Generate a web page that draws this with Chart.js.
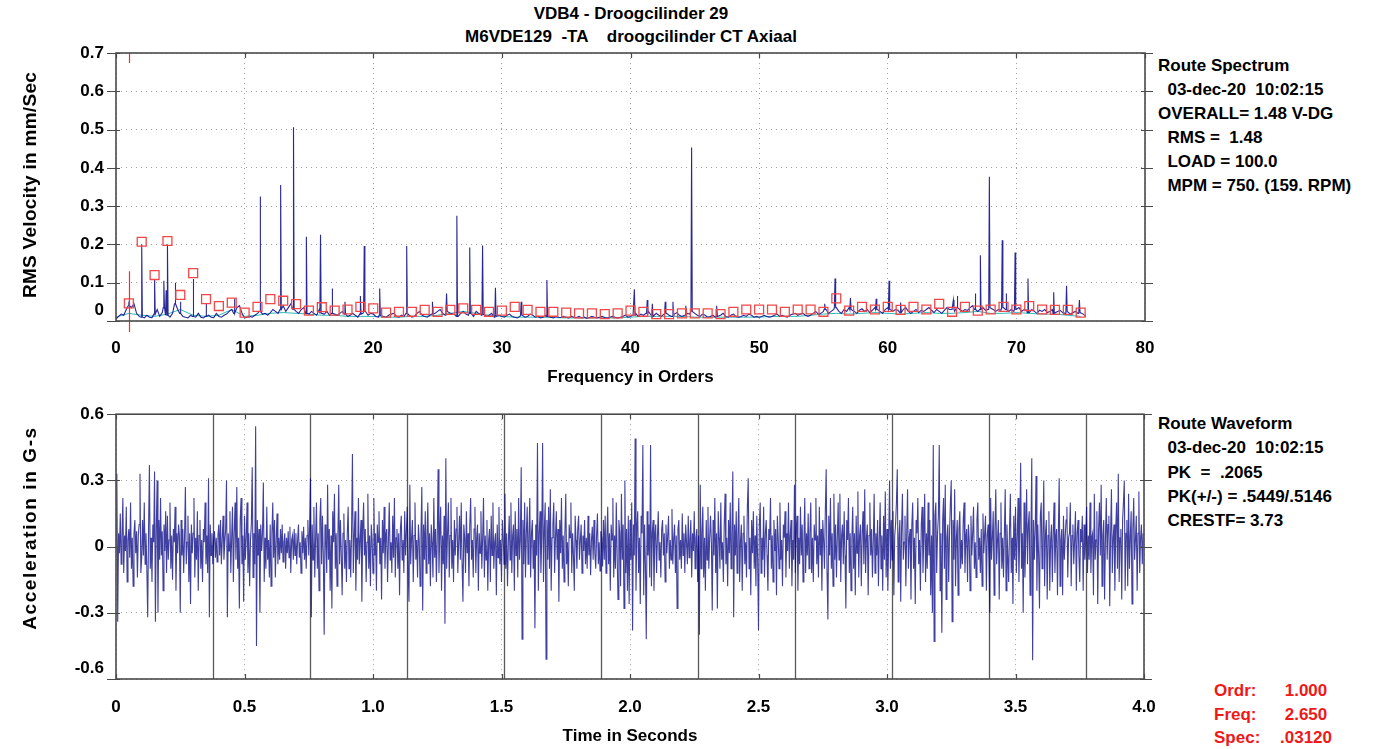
<!DOCTYPE html>
<html><head><meta charset="utf-8">
<script src="https://cdn.jsdelivr.net/npm/chart.js@4.4.1/dist/chart.umd.min.js"></script>
<style>
html,body{margin:0;padding:0;background:#fff;}
body{width:1399px;height:749px;position:relative;overflow:hidden;font-family:"Liberation Sans",Arial,sans-serif;font-weight:bold;color:#000;}
.t{position:absolute;white-space:pre;font-size:17px;line-height:24px;}
canvas{position:absolute;left:0;}
.red{color:#f01818;}
.yt{position:absolute;white-space:nowrap;font-size:19px;transform:translate(-50%,-50%) rotate(-90deg);z-index:2;}
</style></head><body>
<div class="t" style="left:0;width:1262px;text-align:center;top:2px">VDB4 - Droogcilinder 29</div>
<div class="t" style="left:0;width:1262px;text-align:center;top:25px">M6VDE129  -TA    droogcilinder CT Axiaal</div>
<div class="t" style="left:1158px;top:54px;">Route Spectrum
  03-dec-20  10:02:15
OVERALL= 1.48 V-DG
  RMS =  1.48
  LOAD = 100.0
  MPM = 750. (159. RPM)</div>
<div class="t" style="left:1158px;top:412px;line-height:24.25px">Route Waveform
  03-dec-20  10:02:15
  PK  =  .2065
  PK(+/-) = .5449/.5146
  CRESTF= 3.73</div>
<div class="t red" style="left:1214px;top:679px;line-height:23.5px">Ordr:
Freq:
Spec:</div>
<div class="t red" style="left:1256px;width:100px;text-align:center;top:679px;line-height:23.5px">1.000
2.650
.03120</div>
<canvas id="c1" width="1399" height="392" style="top:0"></canvas>
<canvas id="c2" width="1399" height="357" style="top:392px"></canvas>
<div class="yt" style="left:30px;top:185px;letter-spacing:0.3px">RMS Velocity in mm/Sec</div>
<div class="yt" style="left:30px;top:528px;letter-spacing:1.6px">Acceleration in G-s</div>
<script>
// ---------- Spectrum (top) ----------
const topXLabels = ['0','10','20','30','40','50','60','70','80'];
const topYLabels = ['0','0.1','0.2','0.3','0.4','0.5','0.6','0.7'];
const baseStep = 0.2; // orders between baseline spectral lines
const specBaseA = [
.005,.012,.018,.015,.03,.04,.035,.045,.02,.012,.01,.008,.015,.01,.009,.018,.03,.012,.022,.035,.015,.01,.02,.045,.03,
.02,.012,.01,.008,.015,.012,.01,.02,.01,.008,.012,.015,.01,.009,.02,.012,.01,.015,.018,.025,.03,.02,.035,.04,.02,
.008,.01,.012,.01,.015,.02,.025,.018,.02,.015,.022,.03,.025,.02,.03,.04,.025,.035,.045,.03,.025,.02,.03,.035,.02,
.018,.025,.02,.015,.03,.02,.018,.025,.015,.02,.018,.015,.02,.025,.018,.012,.015,.02,.015,.01,.018,.02,.025,.015,.02,
.018,.012,.01,.015,.012,.01,.015,.018,.02,.012,.01,.015,.012,.02,.015,.01,.012,.02,.025,.015,.012,.01,.015,.018,.02];
const specBaseB = [
.025,.03,.02,.015,.025,.02,.018,.015,.012,.02,.025,.018,.015,.02,.012,.025,.02,.015,.018,.012,.015,.02,.01,.012,.015,
.012,.01,.015,.018,.012,.01,.008,.012,.015,.01,.012,.018,.015,.01,.012,.008,.01,.015,.012,.01,.008,.012,.01,.009,.012,
.01,.008,.012,.01,.009,.012,.008,.01,.007,.009,.012,.01,.008,.01,.012,.009,.008,.01,.012,.01,.008,.01,.012,.015,.01,
.012,.015,.02,.012,.018,.015,.02,.025,.015,.012,.02,.015,.012,.018,.02,.015,.012,.018,.022,.015,.012,.015,.02,.018,.025,
.02,.015,.012,.018,.015,.01,.012,.015,.01,.012,.015,.02,.012,.01,.015,.018,.012,.01,.012,.015,.012,.018,.015,.01,.012];
const specBaseC = [
.01,.012,.015,.012,.01,.012,.015,.018,.012,.015,.012,.01,.015,.018,.02,.015,.018,.02,.015,.012,.015,.02,.025,.018,.02,
.025,.03,.02,.025,.03,.035,.025,.02,.03,.025,.035,.03,.025,.02,.028,.032,.025,.03,.022,.028,.035,.03,.025,.02,.03,
.035,.03,.025,.03,.028,.022,.03,.035,.025,.02,.025,.03,.022,.028,.025,.03,.035,.028,.022,.03,.025,.02,.028,.035,.03,
.03,.025,.035,.03,.025,.03,.028,.035,.04,.03,.025,.03,.035,.028,.03,.035,.03,.025,.03,.028,.035,.03,.025,.03,.025,
.03,.035,.025,.03,.028,.022,.03,.025,.02,.028,.025,.03,.022,.025,.03,.02,.025,.028,.022,.02,.025,.018,.022,.025,.02,
.022,.018,.012];
const spikeOrders = [1.0,2.0,3.0,3.72,3.9,4.0,4.6,5.0,6.0,7.0,9.2,11.2,12.8,13.8,14.8,15.9,16.8,17.8,19.0,19.3,20.5,22.6,24.6,25.7,26.5,27.5,28.5,29.5,31.5,33.5,40.3,41.3,41.7,42.7,43.3,44.3,44.75,46.7,55.1,55.9,57.1,59.1,60.1,61.0,65.1,65.4,66.8,67.2,67.9,68.9,69.2,69.9,70.9,72.9,73.9,74.9];
const spikeAmps   = [.045,.20,.11,.105,.08,.20,.10,.05,.11,.045,.058,.325,.355,.506,.22,.225,.085,.05,.065,.196,.085,.196,.05,.072,.275,.192,.197,.087,.05,.107,.083,.055,.045,.05,.05,.04,.453,.04,.045,.111,.06,.058,.105,.048,.055,.065,.072,.172,.377,.211,.072,.179,.111,.075,.092,.055];
// red peak markers at harmonic orders 1..75
const peakAmps = [
.046,.207,.12,.209,.068,.125,.057,.039,.048,.022,
.037,.057,.053,.044,.027,.036,.027,.03,.037,.033,
.022,.024,.024,.029,.024,.029,.033,.029,.024,.027,
.037,.029,.024,.024,.022,.02,.02,.018,.02,.027,
.024,.018,.018,.02,.02,.02,.018,.024,.03,.03,
.03,.024,.03,.03,.024,.059,.027,.037,.03,.037,
.029,.037,.03,.045,.024,.037,.027,.03,.037,.03,
.039,.03,.029,.029,.022];
// cyan reference line at orders 0..75
const cyanAmps = [
.01,.02,.015,.012,.018,.03,.015,.012,.015,.03,
.012,.015,.02,.022,.02,.018,.015,.015,.012,.012,
.012,.01,.01,.012,.012,.015,.02,.025,.02,.015,
.012,.01,.01,.01,.009,.008,.008,.008,.008,.008,
.01,.012,.012,.012,.012,.01,.01,.01,.01,.01,
.01,.012,.012,.012,.015,.018,.02,.018,.02,.022,
.02,.018,.02,.022,.02,.02,.022,.025,.02,.02,
.022,.02,.018,.018,.015,.012];
const cursorOrder = 1.0;
const cursorAmp = 0.13;

// ---------- Waveform (bottom) ----------
const botXLabels = ['0','0.5','1.0','1.5','2.0','2.5','3.0','3.5','4.0'];
const botYLabels = ['-0.6','-0.3','0','0.3','0.6'];
const recordSec = 4.0;
const revTimes = [0.377,0.755,1.132,1.509,1.887,2.264,2.642,3.019,3.396,3.774];
const wave1 = [
.02,.33,-.34,.06,-.03,.15,-.08,.04,.22,-.12,.05,-.02,.18,-.16,.03,.08,-.05,.2,-.1,.04,-.18,.06,.12,-.03,.07,-.14,.05,.1,.33,-.12,
-.05,.12,-.04,.2,-.08,.06,-.1,-.32,.08,.37,-.1,.04,-.16,.1,.02,.34,-.34,.08,.3,-.3,.12,-.06,.22,-.04,.07,-.2,.1,-.02,.16,-.12,
.14,-.06,.03,.2,-.1,.05,-.15,.08,.02,.18,-.2,.06,-.03,.1,.05,-.3,.12,-.04,.08,-.12,.04,.27,-.08,.02,.14,-.16,.06,-.26,.1,-.03,
.06,.22,-.14,.04,-.06,.16,-.2,.05,.12,-.1,.03,-.16,.08,.02,.2,-.08,.05,-.12,.31,-.32,.1,-.04,.06,-.08,.03,.07,-.05,.04,-.07,.05,
.1,-.04,.12,-.08,.03,.14,-.06,.02,.08,.3,-.32,.06,-.02,.16,-.12,.04,.18,-.16,.06,.2,-.06,.27,-.1,.04,-.28,.12,.22,-.08,.05,-.25,
.14,-.06,.04,.2,-.12,.06,-.18,.03,.1,.36,-.14,.06,-.08,.545,-.45,.12,-.04,.08,-.3,.1,-.02,.06,.29,-.16,.04,-.1,.18,-.06,.03,-.14,
.1,-.18,.06,.2,-.05,.12,-.14,.03,.15,-.08,.04,-.06,.08,-.03,.1,-.07,.02,.06,-.1,.04,-.03,.07,-.05,.09,-.12,.03,.05,-.06,.08,-.04,
.06,-.08,.03,.1,-.05,.02,-.12,.07,-.03,.09,-.06,.04,-.1,.05,.12,-.04,.08,.31,-.32,.1,-.06,.18,-.14,.04,.2,-.1,.06,-.2,.12,.22,
-.08,.14,-.04,-.4,.1,.03,-.12,.28,-.06,.08,-.2,.05,-.28,.16,.02,.24,-.1,.06,-.18,.04,.28,-.08,.12,-.04,-.22,.06,.15,-.1,.03,-.16,
.06,.18,-.1,.03,-.14,.08,.42,-.12,.05,.16,-.2,.04,-.06,.22,-.08,.03,.12,-.25,.06,.2,-.04,.08,-.16,.02,.24,-.1,.05,-.18,.1,.03];
const wave2 = [
-.12,.22,-.04,.06,-.2,.1,.02,.16,-.08,.04,-.24,.12,-.03,.18,-.1,.05,.08,-.16,.03,.2,-.06,.02,-.12,.14,-.05,.22,-.14,.04,.08,-.1,
.06,-.22,.08,.14,-.06,.03,-.12,.16,-.04,.07,.18,-.1,-.25,.28,-.08,.04,.12,-.16,.05,.2,-.06,.03,-.14,.1,.02,-.18,.06,.27,-.29,.1,
-.06,.16,-.12,.04,.2,-.08,.06,-.18,.1,.02,-.14,.22,-.05,.08,-.16,.04,.35,-.12,.06,.18,-.2,.05,-.08,.14,-.35,.4,-.1,.06,.2,-.14,
.05,.22,-.1,.03,-.16,.12,-.04,.08,.18,-.12,.02,.14,-.06,.2,-.08,-.25,.1,.04,-.12,.16,-.03,.06,-.18,.1,.22,-.06,.03,-.14,.08,.18,
-.12,.04,.1,-.2,.06,-.03,.16,-.1,.04,.22,-.14,.05,-.06,.12,-.2,.03,.08,-.16,.14,-.04,.2,-.1,.02,.06,-.22,.1,-.05,.18,-.08,.03,
-.16,.12,.04,-.08,.24,-.1,.06,-.18,.02,.14,-.06,.2,-.12,.05,.1,-.2,.16,-.04,.08,-.14,.22,-.06,.03,.36,-.42,.12,-.08,.2,-.14,.06,
.18,-.08,.04,.22,-.14,.06,.12,-.1,.03,-.37,.1,-.04,.47,-.2,.06,.16,-.12,.04,.47,-.16,.08,.2,-.51,.12,-.06,.18,-.1,.26,-.2,.04,
.1,.2,-.12,.04,.16,-.06,.08,-.25,.12,-.03,.22,-.1,.05,-.16,.06,.24,-.08,.02,-.18,.1,.04,.2,-.12,.06,-.04,-.2,.14,.03,-.1,.08,
.14,-.06,.03,.1,-.12,.05,-.02,.12,-.08,.04,-.1,.14,-.04,.06,-.13,.03,.09,-.06,.12,-.03,-.1,.05,.15,-.08,.02,-.11,.07,.04,-.09,.12,
-.06,.14,-.12,.04,.18,-.08,.06,-.2,.1,.03,.22,-.14,.05,-.1,.2,-.04,-.24,.12,.06,-.18,.24,-.06,.1,-.28,.3,-.12,.08,-.2,.14,-.26];
const wave3 = [
.12,-.06,.2,-.38,.1,-.04,.49,-.2,.08,.16,-.12,.04,-.26,.14,.06,.46,-.22,.1,-.08,-.42,.16,-.04,.1,-.14,.46,-.18,.06,.12,-.2,.04,
.1,-.12,.04,.16,-.06,.02,-.14,.08,.12,-.04,.06,-.16,.1,-.03,.05,.14,-.1,.03,-.06,.17,-.08,.04,.1,-.12,.05,-.28,.08,.12,-.06,.03,
-.1,.15,-.04,.06,-.12,.1,.02,-.08,.14,-.05,.03,.12,-.14,.06,-.02,.16,-.1,.04,.08,-.16,.05,-.4,.28,-.1,.06,.18,-.14,.04,-.2,.12,
-.06,.18,-.1,.04,.14,.02,-.29,.12,-.04,.22,-.12,.06,-.28,.16,.04,-.1,.2,-.06,.02,-.16,.1,.24,-.08,.04,-.18,.12,-.03,.2,-.1,.06,
.34,-.32,.1,-.04,.16,-.12,.05,.22,-.16,.03,.1,-.2,.06,.14,-.08,.02,-.14,.18,.31,-.1,.04,-.22,.12,-.03,.16,-.1,.05,-.18,.14,-.06,
-.38,.1,.2,-.12,.04,-.06,.18,-.14,.06,.12,-.04,-.2,.08,.03,.22,-.1,.05,-.16,.12,-.02,.08,-.22,.14,.04,-.1,.2,-.06,.03,-.18,.1,
.04,.16,-.14,.06,-.02,.2,-.1,.05,.12,-.18,.03,-.06,.28,-.12,.08,.14,-.2,.04,-.08,.18,-.04,.1,-.16,.02,.22,-.12,.06,-.04,.15,-.1,
.06,.2,-.12,.04,-.16,.1,.03,.22,-.08,.05,-.14,.18,-.04,.08,-.2,.12,.03,-.1,.16,.35,-.12,-.33,.14,-.04,.22,-.1,.06,-.18,.24,-.06,
.1,-.14,.04,.2,-.06,.24,-.16,.05,.1,-.08,.16,-.04,-.28,.12,.03,.22,-.12,.06,-.2,.04,.18,-.1,.06,-.22,.14,-.03,.25,-.14,.05,.1,
-.18,.06,.16,-.08,.26,-.12,.04,.1,-.22,.05,.2,-.04,.08,-.14,.02,.24,-.12,.06,-.04,.12,-.18,.03,.2,-.1,.05,-.2,.14,-.06,.25,-.14];
const wave4 = [
.08,-.2,.04,.3,-.1,.12,-.06,.16,-.22,.05,.1,.2,.35,-.16,.04,.12,-.25,.08,.24,-.06,.02,.14,-.18,.06,.26,-.1,.04,.08,-.24,.1,
.2,-.1,.04,-.26,.12,.06,.22,-.08,.03,-.2,.1,.18,-.12,.05,.24,-.16,.06,-.1,.2,-.04,.12,-.22,.05,-.3,.46,-.43,.14,.2,-.12,.06,
.14,.46,-.2,.06,-.39,.12,.22,-.1,.28,-.24,.04,.1,-.16,.06,.2,.3,-.34,.12,-.06,.26,-.18,.04,.12,-.22,.08,.16,-.1,.03,-.08,.12,
.2,-.12,.04,.08,-.16,.1,.03,-.2,.14,-.04,.06,.18,-.1,.02,-.14,.12,.2,-.06,.04,-.12,.08,-.18,.15,-.03,.06,.14,-.2,.05,.1,-.06,
-.3,.22,-.06,.04,.16,-.22,.08,.26,-.08,.03,.12,-.24,.06,.2,-.1,.04,-.14,.06,.26,-.2,.1,-.04,-.16,.08,.24,-.12,.04,-.26,.14,-.06,
.18,-.12,.04,.22,-.16,.08,.38,-.1,.06,-.3,.2,-.14,.04,.26,-.08,.1,.16,-.22,.05,.4,-.515,.12,-.06,.08,.32,-.2,.1,-.04,-.28,.14,
.2,-.1,.04,.3,-.18,.06,.12,-.24,.05,.16,-.2,.03,.1,-.16,.06,.2,-.12,.04,.08,-.22,.06,.31,-.18,.03,.08,-.22,.14,-.06,.04,.12,
.18,-.14,.04,.06,.2,-.18,.05,.1,-.08,.03,.16,-.2,.06,.12,-.04,-.16,.08,.02,.14,-.2,.1,-.06,.04,.18,-.12,.05,-.06,.2,-.12,.04,
.06,-.22,.24,-.06,.03,.16,-.26,.08,.2,-.04,.28,-.18,.05,.12,-.24,.04,.22,-.06,.1,.14,-.27,.06,.26,-.12,.04,.1,-.2,.08,.2,-.1,
.33,-.16,.04,.08,-.24,.12,.2,.3,-.2,.06,.12,-.18,.24,-.1,.04,.16,-.26,.08,.22,-.06,.03,.14,-.2,.06,.25,-.12,.04,.1,-.08,.06];

// ---------- build datasets ----------
const specBase = specBaseA.concat(specBaseB, specBaseC);
const specPts = specBase.map((v,i)=>({x: Math.round(i*baseStep*100)/100, y: v}));
spikeOrders.forEach((f,k)=>{
  const foot = specBase[Math.min(specBase.length-1, Math.round(f/baseStep))];
  specPts.push({x:f-0.05,y:foot},{x:f,y:spikeAmps[k]},{x:f+0.05,y:foot});
});
specPts.sort((a,b)=>a.x-b.x);
const peakPts = peakAmps.map((v,k)=>({x:k+1,y:v}));
const cyanPts = cyanAmps.map((v,k)=>({x:k,y:v}));
const wave = wave1.concat(wave2, wave3, wave4);
const dt = recordSec / wave.length;
const wavePts = wave.map((v,i)=>({x:i*dt,y:v}));

Chart.defaults.font.family = '"Liberation Sans", Arial, sans-serif';
Chart.defaults.color = '#000';

const framePlugin = {
  id:'frame',
  afterDraw(chart, args, opts){
    const {ctx, chartArea:a, scales} = chart;
    ctx.save();
    ctx.strokeStyle = '#4a4a4a';
    ctx.lineWidth = 1.2;
    scales.y.ticks.forEach(t=>{
      const y = Math.round(scales.y.getPixelForValue(t.value))+0.5;
      ctx.beginPath();
      ctx.moveTo(a.left-9,y); ctx.lineTo(a.left+4,y);
      ctx.moveTo(a.right-4,y); ctx.lineTo(a.right+8,y);
      ctx.stroke();
    });
    scales.x.ticks.forEach(t=>{
      const x = Math.round(scales.x.getPixelForValue(t.value))+0.5;
      ctx.beginPath();
      ctx.moveTo(x,a.top); ctx.lineTo(x,a.top+5);
      if (opts.bottomTicks){ ctx.moveTo(x,a.bottom); ctx.lineTo(x,a.bottom-5); }
      ctx.stroke();
    });
    ctx.lineWidth = 1.6;
    ctx.strokeRect(a.left, a.top, a.right-a.left, a.bottom-a.top);
    ctx.restore();
  }
};
const cursorPlugin = {
  id:'cursor',
  afterDatasetsDraw(chart){
    const {ctx, chartArea:a, scales} = chart;
    const x = Math.round(scales.x.getPixelForValue(cursorOrder))+0.5;
    ctx.save();
    ctx.strokeStyle = '#f03030'; ctx.lineWidth = 1.2;
    ctx.beginPath();
    ctx.moveTo(x, scales.y.getPixelForValue(cursorAmp)); ctx.lineTo(x, a.bottom+11);
    ctx.moveTo(x, a.top); ctx.lineTo(x, a.top+10);
    ctx.stroke();
    ctx.restore();
  }
};
const revPlugin = {
  id:'rev',
  beforeDatasetsDraw(chart){
    const {ctx, chartArea:a, scales} = chart;
    ctx.save();
    ctx.strokeStyle = '#5a5a5a'; ctx.lineWidth = 1.3;
    revTimes.forEach(t=>{
      const x = Math.round(scales.x.getPixelForValue(t))+0.5;
      ctx.beginPath(); ctx.moveTo(x,a.top); ctx.lineTo(x,a.bottom); ctx.stroke();
    });
    ctx.restore();
  }
};

const tickFont = {size:17, weight:'bold'};
const gridOpts = {color:'#a0a0a0', drawTicks:false, lineWidth:1};
const dashBorder = {display:false, dash:[1,4]};

new Chart(document.getElementById('c1'), {
  type:'line',
  data:{datasets:[
    {label:'peaks', data:peakPts, showLine:false, pointStyle:'rect', pointRadius:6.3, pointBorderColor:'#f04848', pointBackgroundColor:'rgba(0,0,0,0)', pointBorderWidth:1.3, order:0},
    {label:'spectrum', data:specPts, borderColor:'rgba(10,10,135,0.88)', borderWidth:1.1, pointRadius:0, order:1},
    {label:'reference', data:cyanPts, borderColor:'#30b8b8', borderWidth:1, pointRadius:0, order:2}
  ]},
  options:{
    responsive:false, animation:false, events:[],
    layout:{padding:{top:53,right:254,left:0,bottom:0}},
    plugins:{legend:{display:false}, tooltip:{enabled:false}, frame:{bottomTicks:false}},
    scales:{
      x:{type:'linear', min:0, max:80, afterFit(s){s.height=71;},
         ticks:{stepSize:10, padding:17, font:tickFont, maxRotation:0, autoSkip:false, callback:(v,i)=>topXLabels[i]},
         grid:gridOpts, border:dashBorder,
         title:{display:true, text:'Frequency in Orders', font:{size:17,weight:'bold'}, padding:{top:0,bottom:4}}},
      y:{type:'linear', min:0, max:0.7, afterFit(s){s.width=116;},
         ticks:{stepSize:0.1, padding:12, font:tickFont, autoSkip:false, callback:(v,i)=> i===0 ? [topYLabels[0],''] : topYLabels[i]},
         grid:gridOpts, border:dashBorder,
         title:{display:false}}
    }
  },
  plugins:[framePlugin, cursorPlugin]
});

new Chart(document.getElementById('c2'), {
  type:'line',
  data:{datasets:[
    {label:'waveform', data:wavePts, borderColor:'rgba(0,0,128,0.75)', borderWidth:1.1, pointRadius:0}
  ]},
  options:{
    responsive:false, animation:false, events:[],
    layout:{padding:{top:19,right:255,left:0,bottom:0}},
    plugins:{legend:{display:false}, tooltip:{enabled:false}, frame:{bottomTicks:true}},
    scales:{
      x:{type:'linear', min:0, max:4, afterFit(s){s.height=70;},
         ticks:{stepSize:0.5, padding:18, font:tickFont, maxRotation:0, autoSkip:false, callback:(v,i)=>botXLabels[i]},
         grid:gridOpts, border:dashBorder,
         title:{display:true, text:'Time in Seconds', font:{size:17,weight:'bold'}, padding:{top:0,bottom:2}}},
      y:{type:'linear', min:-0.6, max:0.6, afterFit(s){s.width=116;},
         ticks:{stepSize:0.3, padding:12, font:tickFont, autoSkip:false, callback:(v,i)=> i===0 ? [botYLabels[0],''] : botYLabels[i]},
         grid:gridOpts, border:dashBorder,
         title:{display:false}}
    }
  },
  plugins:[framePlugin, revPlugin]
});
</script>
</body></html>
